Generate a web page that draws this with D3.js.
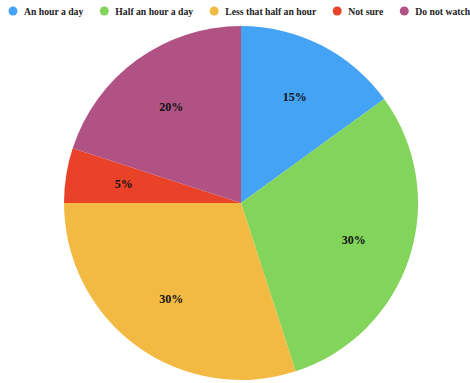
<!DOCTYPE html>
<html>
<head>
<meta charset="utf-8">
<script src="https://cdn.jsdelivr.net/npm/d3@7"></script>
<style>
  html, body { margin: 0; padding: 0; background: #fff; overflow: hidden; }
  svg { display: block; }
</style>
</head>
<body>
<svg id="chart" width="470" height="383"></svg>
<script>
// Viewing time categories and their shares (%)
const categories = ["An hour a day", "Half an hour a day", "Less that half an hour", "Not sure", "Do not watch"];
const shares = [15, 30, 30, 5, 20];
const colors = ["#45a3f6", "#82d45a", "#f2ba42", "#ea4228", "#b05384"];

const svg = d3.select("#chart");
const cx = 241, cy = 203, radius = 177;
const serif = "'Liberation Serif', 'Times New Roman', serif";

const pie = d3.pie().sort(null).value(d => d.value);
const arcs = pie(categories.map((c, i) => ({ name: c, value: shares[i], color: colors[i] })));

const arc = d3.arc().innerRadius(0).outerRadius(radius);
const labelArc = d3.arc().innerRadius(radius * 0.67).outerRadius(radius * 0.67);

const g = svg.append("g").attr("transform", `translate(${cx},${cy})`);

g.selectAll("path.slice")
  .data(arcs)
  .join("path")
  .attr("class", "slice")
  .attr("d", arc)
  .attr("fill", d => d.data.color);

g.selectAll("text.pct")
  .data(arcs)
  .join("text")
  .attr("class", "pct")
  .attr("transform", d => `translate(${labelArc.centroid(d)})`)
  .attr("text-anchor", "middle")
  .attr("dominant-baseline", "central")
  .attr("font-family", serif)
  .attr("font-weight", "bold")
  .attr("font-size", 12)
  .attr("fill", "#111")
  .text(d => d.data.value + "%");

// Legend row across the top
const legend = svg.append("g").attr("transform", "translate(0,11)");
let x = 13;
categories.forEach((c, i) => {
  const item = legend.append("g").attr("transform", `translate(${x},0)`);
  item.append("circle").attr("r", 4.5).attr("fill", colors[i]);
  const t = item.append("text")
    .attr("x", 11)
    .attr("dominant-baseline", "central")
    .attr("font-family", serif)
    .attr("font-weight", "bold")
    .attr("font-size", 9.7)
    .attr("fill", "#222")
    .text(c);
  x += 11 + t.node().getComputedTextLength() + 21;
});
</script>
</body>
</html>
